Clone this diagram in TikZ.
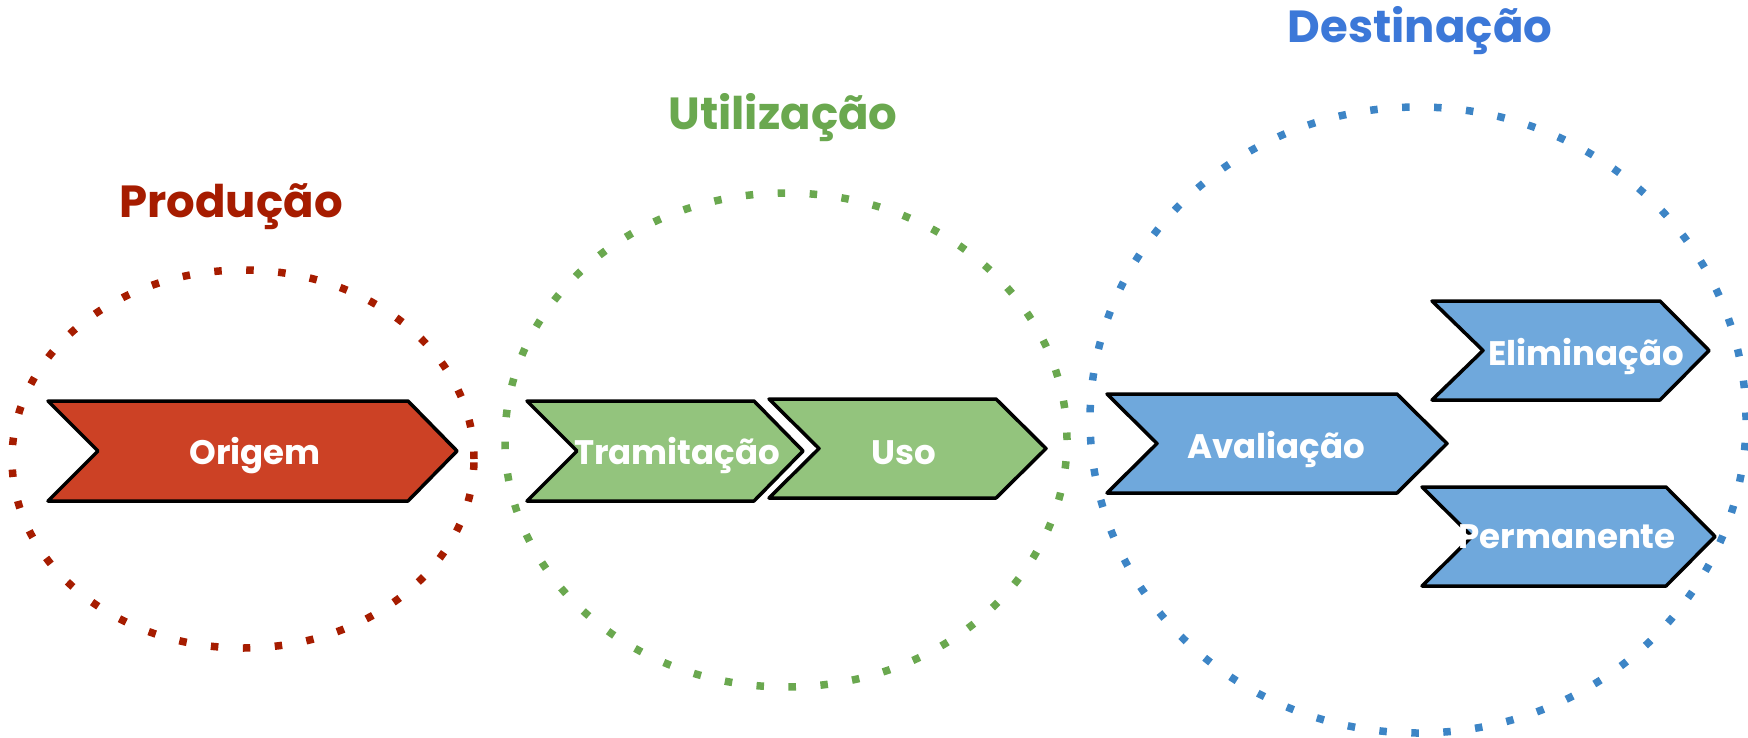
\documentclass[tikz,border=0pt]{standalone}
\usepackage{fontspec}
\setmainfont{Poppins}
\begin{document}
\begin{tikzpicture}[x=1pt,y=-1pt,
  dotring/.style={line width=7.5pt, dash pattern=on 7.5pt off 24.5pt},
  chev/.style={draw=black, line width=3.5pt, line join=round},
  lbl/.style={text=white, font=\fontsize{34}{40}\selectfont\bfseries, inner sep=0pt},
  ttl/.style={font=\fontsize{45}{52}\selectfont\bfseries, inner sep=0pt}]
\definecolor{rfill}{HTML}{CC4125}
\definecolor{rdark}{HTML}{A61C00}
\definecolor{gfill}{HTML}{93C47D}
\definecolor{gdark}{HTML}{6AA84F}
\definecolor{bfill}{HTML}{6FA8DC}
\definecolor{bdark}{HTML}{3D85C6}
\definecolor{btitle}{HTML}{3C78D8}
\useasboundingbox (0,0) rectangle (1748,737);
% rings
\draw[dotring, rdark] (243,459) ellipse [x radius=231pt, y radius=189pt];
\draw[dotring, gdark] (786,440) ellipse [x radius=281pt, y radius=247pt];
\draw[dotring, bdark] (1418,420) ellipse [x radius=328pt, y radius=313pt];
% chevrons
\draw[chev, fill=rfill] (48,401) -- (408,401) -- (457,451) -- (408,501) -- (48,501) -- (98,451) -- cycle;
\node[lbl] (origem) at (255,456) {Origem};
\draw[chev, fill=gfill] (527,401) -- (754,401) -- (803,451) -- (754,501) -- (527,501) -- (577,451) -- cycle;
\node[lbl] (tram) at (677,455) {Tramitação};
\draw[chev, fill=gfill] (769,399) -- (996,399) -- (1046,448.5) -- (996,498) -- (769,498) -- (819,448.5) -- cycle;
\node[lbl] (uso) at (904,453) {Uso};
\draw[chev, fill=bfill] (1107,394) -- (1397,394) -- (1447,443.5) -- (1397,493) -- (1107,493) -- (1157,443.5) -- cycle;
\node[lbl] (aval) at (1276,449) {Avaliação};
\draw[chev, fill=bfill] (1432,301) -- (1660,301) -- (1709,350.5) -- (1660,400) -- (1432,400) -- (1483,350.5) -- cycle;
\node[lbl] (elim) at (1586,356) {Eliminação};
\draw[chev, fill=bfill] (1422,487) -- (1666,487) -- (1715,536.5) -- (1666,586) -- (1422,586) -- (1472,536.5) -- cycle;
\node[lbl] (perm) at (1567,537) {Permanente};
% titles
\node[ttl, text=rdark] (prod) at (231,207) {Produção};
\node[ttl, text=gdark] (util) at (783,118) {Utilização};
\node[ttl, text=btitle] (dest) at (1420,31) {Destinação};
\end{tikzpicture}
\end{document}
